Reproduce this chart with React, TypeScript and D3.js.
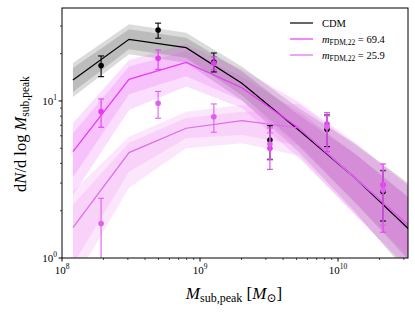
import React, { useEffect } from 'react';
import * as d3 from 'd3';

// halo mass grid for the model curves and for the binned points
const massLine = [1.2e8, 3.06e8, 7.93e8, 2.01e9, 5.21e9, 1.33e10, 3.44e10];
const massPts = [1.92e8, 4.97e8, 1.26e9, 3.21e9, 8.32e9, 2.12e10];

// CDM
const cdmLine = [13.6, 24.7, 21.85, 12.96, 6.51, 3.23, 1.46];
const cdmLo1 = [11.42, 21.35, 18.87, 10.87, 5.22, 2.27, 0.915];
const cdmHi1 = [16.23, 28.6, 25.3, 15.46, 8.11, 4.6, 2.34];
const cdmLo2 = [10.6, 19.84, 17.5, 10.1, 4.71, 1.96, 0.746];
const cdmHi2 = [17.46, 30.8, 27.2, 16.6, 8.98, 5.32, 2.87];
const cdmPts = [16.8, 28.3, 17.7, 5.64, 6.6, 2.64];
const cdmPtsLo = [14.28, 25.1, 15.3, 4.25, 5.12, 1.72];
const cdmPtsHi = [19.35, 31.3, 20.2, 6.96, 8.14, 3.6];

// m_FDM,22 = 69.4
const f69Line = [4.75, 13.73, 17.6, 12.15, 6.7, 3.25, 1.54];
const f69Lo1 = [3.25, 11.05, 14.35, 10.05, 5.11, 2.22, 0.969];
const f69Hi1 = [6.24, 16.6, 20.7, 14.3, 8.55, 4.63, 2.31];
const f69Lo2 = [2.52, 8.75, 12.36, 9.02, 4.34, 1.89, 0.8];
const f69Hi2 = [7.24, 18.2, 23.07, 15.94, 9.8, 5.44, 2.79];
const f69Pts = [8.55, 18.7, 17.4, 5.0, 7.14, 2.92];
const f69PtsLo = [6.8, 15.9, 15.8, 3.67, 4.75, 1.46];
const f69PtsHi = [10.3, 21.1, 19.1, 6.73, 8.42, 3.97];

// m_FDM,22 = 25.9
const f26Line = [1.56, 4.69, 6.7, 7.49, 6.73, 3.22, 1.55];
const f26Lo1 = [0.907, 3.54, 5.79, 6.08, 5.2, 2.27, 1.0];
const f26Hi1 = [2.18, 5.42, 7.8, 8.55, 8.47, 4.46, 2.27];
const f26Lo2 = [0.691, 2.8, 5.0, 5.38, 4.48, 1.87, 0.831];
const f26Hi2 = [2.65, 5.92, 8.55, 9.43, 9.57, 5.25, 2.74];
const f26Pts = [1.66, 9.67, 7.94, 5.32, 6.83, 2.71];
const f26PtsLo = [0.94, 7.76, 6.32, 4.21, 5.02, 1.62];
const f26PtsHi = [2.4, 11.5, 9.57, 6.26, 8.03, 3.64];

const xTicks = [8, 9, 10];
const yTicks = [0, 1];

const series = [
  { key: 'cdm', line: cdmLine, lo1: cdmLo1, hi1: cdmHi1, lo2: cdmLo2, hi2: cdmHi2,
    pts: cdmPts, ptsLo: cdmPtsLo, ptsHi: cdmPtsHi,
    color: '#000000', band: '#000000', bandOp: 0.14, ptColor: '#000000' },
  { key: 'f69', line: f69Line, lo1: f69Lo1, hi1: f69Hi1, lo2: f69Lo2, hi2: f69Hi2,
    pts: f69Pts, ptsLo: f69PtsLo, ptsHi: f69PtsHi,
    color: '#ea36f8', band: '#e83cf5', bandOp: 0.17, ptColor: '#e33cf2' },
  { key: 'f26', line: f26Line, lo1: f26Lo1, hi1: f26Hi1, lo2: f26Lo2, hi2: f26Hi2,
    pts: f26Pts, ptsLo: f26PtsLo, ptsHi: f26PtsHi,
    color: '#dc6cec', band: '#ee82ee', bandOp: 0.2, ptColor: '#dc62ea' },
];

const W = 415, H = 312;
const L = 62, R = 408, T = 8, B = 258;
const font = '"Liberation Serif", "DejaVu Serif", serif';

export default function App() {
  useEffect(() => { document.body.style.margin = '0'; }, []);

  const x = d3.scaleLog().domain([1e8, Math.pow(10, 10.507)]).range([L, R]);
  const y = d3.scaleLog().domain([1, Math.pow(10, 1.592)]).range([B, T]);

  const area = (lo: number[], hi: number[]) =>
    d3.area<number>()
      .x((_, i) => x(massLine[i]))
      .y0((_, i) => y(lo[i]))
      .y1((_, i) => y(hi[i]))(lo.map((_, i) => i)) || '';
  const line = (v: number[]) =>
    d3.line<number>().x((_, i) => x(massLine[i])).y(d => y(d))(v) || '';

  const xMinor: number[] = [];
  for (let k = 8; k <= 10; k++) for (let m = 2; m <= 9; m++) {
    const v = m * Math.pow(10, k);
    if (v < x.domain()[1]) xMinor.push(v);
  }
  const yMinor: number[] = [];
  for (let m = 2; m <= 9; m++) yMinor.push(m);
  yMinor.push(20, 30);

  return (
    <svg width={W} height={H} style={{ display: 'block' }} fontFamily={font}>
      <rect width={W} height={H} fill="#fff" />
      <defs>
        <clipPath id="plot"><rect x={L} y={T} width={R - L} height={B - T} /></clipPath>
      </defs>
      <g clipPath="url(#plot)">
        {series.map(s => (
          <g key={s.key}>
            <path d={area(s.lo2, s.hi2)} fill={s.band} fillOpacity={s.bandOp} />
            <path d={area(s.lo1, s.hi1)} fill={s.band} fillOpacity={s.bandOp} />
          </g>
        ))}
        {series.map(s => (
          <path key={s.key} d={line(s.line)} fill="none" stroke={s.color} strokeWidth={1.2} />
        ))}
        {series.map(s => (
          <g key={s.key} stroke={s.ptColor} fill={s.ptColor}>
            {s.pts.map((p, i) => {
              const cx = x(massPts[i]);
              return (
                <g key={i}>
                  <line x1={cx} x2={cx} y1={y(s.ptsLo[i])} y2={y(s.ptsHi[i])} strokeWidth={1.1} />
                  <line x1={cx - 3} x2={cx + 3} y1={y(s.ptsLo[i])} y2={y(s.ptsLo[i])} strokeWidth={1.1} />
                  <line x1={cx - 3} x2={cx + 3} y1={y(s.ptsHi[i])} y2={y(s.ptsHi[i])} strokeWidth={1.1} />
                  <circle cx={cx} cy={y(p)} r={2.8} stroke="none" />
                </g>
              );
            })}
          </g>
        ))}
      </g>

      <rect x={L} y={T} width={R - L} height={B - T} fill="none" stroke="#000" strokeWidth={1} />

      {xTicks.map(k => (
        <g key={k}>
          <line x1={x(Math.pow(10, k))} x2={x(Math.pow(10, k))} y1={B} y2={B + 3.5} stroke="#000" />
          <text x={x(Math.pow(10, k))} y={B + 16} fontSize={11} textAnchor="middle">
            10<tspan fontSize={7.5} dy={-5}>{k}</tspan>
          </text>
        </g>
      ))}
      {xMinor.map(v => (
        <line key={v} x1={x(v)} x2={x(v)} y1={B} y2={B + 2} stroke="#000" strokeWidth={0.7} />
      ))}
      {yTicks.map(k => (
        <g key={k}>
          <line x1={L - 3.5} x2={L} y1={y(Math.pow(10, k))} y2={y(Math.pow(10, k))} stroke="#000" />
          <text x={L - 5} y={y(Math.pow(10, k)) + 4} fontSize={11} textAnchor="end">
            10<tspan fontSize={7.5} dy={-5}>{k}</tspan>
          </text>
        </g>
      ))}
      {yMinor.map(v => (
        <line key={v} x1={L - 2} x2={L} y1={y(v)} y2={y(v)} stroke="#000" strokeWidth={0.7} />
      ))}

      <text x={234} y={299} fontSize={17} textAnchor="middle">
        <tspan fontStyle="italic">M</tspan>
        <tspan fontSize={12} dy={3}>sub,peak</tspan>
        <tspan dy={-3}> [</tspan>
        <tspan fontStyle="italic">M</tspan>
        <tspan fontSize={12} dy={3}>⊙</tspan>
        <tspan dy={-3}>]</tspan>
      </text>
      <text transform={`translate(26,${134}) rotate(-90)`} fontSize={16.5} textAnchor="middle">
        d<tspan fontStyle="italic">N</tspan>/d log <tspan fontStyle="italic">M</tspan>
        <tspan fontSize={11.5} dy={3}>sub,peak</tspan>
      </text>

      <g fontSize={10.5}>
        <line x1={290} x2={313} y1={23} y2={23} stroke="#000" strokeWidth={1.2} />
        <text x={322} y={27}>CDM</text>
        <line x1={290} x2={313} y1={39} y2={39} stroke={series[1].color} strokeWidth={1.2} />
        <text x={322} y={43}>
          <tspan fontStyle="italic">m</tspan>
          <tspan fontSize={7.5} dy={2}>FDM,22</tspan>
          <tspan dy={-2}> = 69.4</tspan>
        </text>
        <line x1={290} x2={313} y1={55} y2={55} stroke={series[2].color} strokeWidth={1.2} />
        <text x={322} y={59}>
          <tspan fontStyle="italic">m</tspan>
          <tspan fontSize={7.5} dy={2}>FDM,22</tspan>
          <tspan dy={-2}> = 25.9</tspan>
        </text>
      </g>
    </svg>
  );
}
